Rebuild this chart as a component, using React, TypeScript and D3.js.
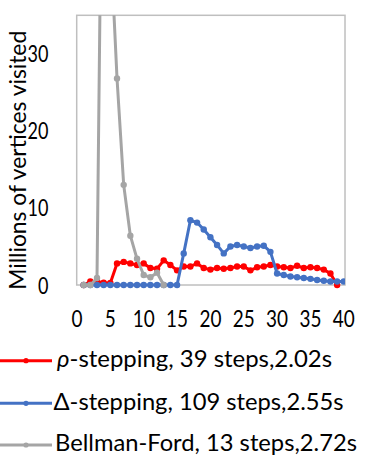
import React from "react";
import * as d3 from "d3";

const xTicks = [0, 5, 10, 15, 20, 25, 30, 35, 40];
const yTicks = [0, 10, 20, 30];

const rhoValues = [0, 0.45, 0.45, 0.3, 0.25, 2.8, 3.0, 2.8, 2.6, 2.8, 2.2, 2.1, 3.2, 2.6, 1.9, 2.4, 2.4, 2.8, 2.2, 2.0, 2.2, 2.1, 2.2, 2.4, 2.4, 1.9, 2.3, 2.4, 2.6, 2.4, 2.3, 2.2, 2.5, 2.2, 2.3, 2.2, 2.0, 1.5, 0];
const deltaValues = [0, 0, 0, 0, 0, 0, 0, 0, 0, 0, 0, 0, 0, 0, 0, 4.1, 8.4, 8.1, 7.2, 6.2, 5.2, 4.1, 5.0, 5.2, 5.0, 4.8, 5.0, 5.1, 4.3, 1.5, 1.3, 1.1, 1.0, 0.9, 0.8, 0.65, 0.55, 0.45, 0.45, 0.45];
const bellmanValues = [0, 0, 0.9, 80, 45, 26.8, 13, 6.4, 3.4, 1.3, 1.0, 1.6, 0];

const seriesNames = ["-stepping, 39 steps,2.02s", "Δ-stepping, 109 steps,2.55s", "Bellman-Ford, 13 steps,2.72s"];
const seriesColors = ["#ff0000", "#4472c4", "#a5a5a5"];
const yTitle = "Millions of vertices visited";

const FONT = "Lato, 'Open Sans', sans-serif";

export default function App() {
  const left = 76.7, right = 345, top = 15.3, bottom = 285;
  const x = d3.scaleLinear().domain([0, 40]).range([77, 343.8]);
  const y = d3.scaleLinear().domain([0, 35]).range([bottom, top]);
  const line = d3.line<number>().x((_, i) => x(i + 1)).y((d) => y(d));
  const allSeries = [rhoValues, deltaValues, bellmanValues];
  const legendY = [360.7, 403.3, 445];
  const legendTextW = [275, 290, 302];
  const digitW = 11;

  return (
    <svg width={374} height={467} style={{ position: "fixed", left: 0, top: 0, background: "#fff" }} fontFamily={FONT}>
      <defs>
        <clipPath id="plotclip">
          <rect x={left} y={top} width={right - left} height={bottom - top + 6} />
        </clipPath>
      </defs>
      <rect x={left} y={top} width={right - left} height={bottom - top} fill="none" stroke="#bfbfbf" strokeWidth={1.5} />
      {yTicks.map((t) => (
        <text key={t} x={48.5} y={y(t) + 8.5} textAnchor="end" fontSize={23} fill="#000"
          textLength={String(t).length * digitW * 0.95} lengthAdjust="spacingAndGlyphs">{t}</text>
      ))}
      {xTicks.map((t) => (
        <text key={t} x={x(t)} y={326.7} textAnchor="middle" fontSize={23} fill="#000"
          textLength={String(t).length * digitW} lengthAdjust="spacingAndGlyphs">{t}</text>
      ))}
      <text transform="translate(25.5,160.3) rotate(-90)" textAnchor="middle" fontSize={24} textLength={259} lengthAdjust="spacingAndGlyphs" fill="#000">{yTitle}</text>
      <g clipPath="url(#plotclip)">
        {allSeries.map((vals, si) => (
          <g key={si}>
            <path d={line(vals) || ""} fill="none" stroke={seriesColors[si]} strokeWidth={3} strokeLinejoin="round" />
            {vals.map((v, i) => (
              <circle key={i} cx={x(i + 1)} cy={y(v)} r={3.2} fill={seriesColors[si]} />
            ))}
          </g>
        ))}
      </g>
      {seriesNames.map((name, si) => (
        <g key={si}>
          <line x1={0} x2={52} y1={legendY[si]} y2={legendY[si]} stroke={seriesColors[si]} strokeWidth={3} />
          <circle cx={26} cy={legendY[si]} r={2.6} fill={seriesColors[si]} />
          {si === 0 ? (
            <text x={57} y={legendY[si] + 6.3} fontSize={24} fill="#000" textLength={legendTextW[si]} lengthAdjust="spacingAndGlyphs">
              <tspan fontStyle="italic">ρ</tspan>{name}
            </text>
          ) : (
            <text x={si === 1 ? 53.5 : 55} y={legendY[si] + 6.3} fontSize={24} fill="#000" textLength={legendTextW[si]} lengthAdjust="spacingAndGlyphs">{name}</text>
          )}
        </g>
      ))}
    </svg>
  );
}
